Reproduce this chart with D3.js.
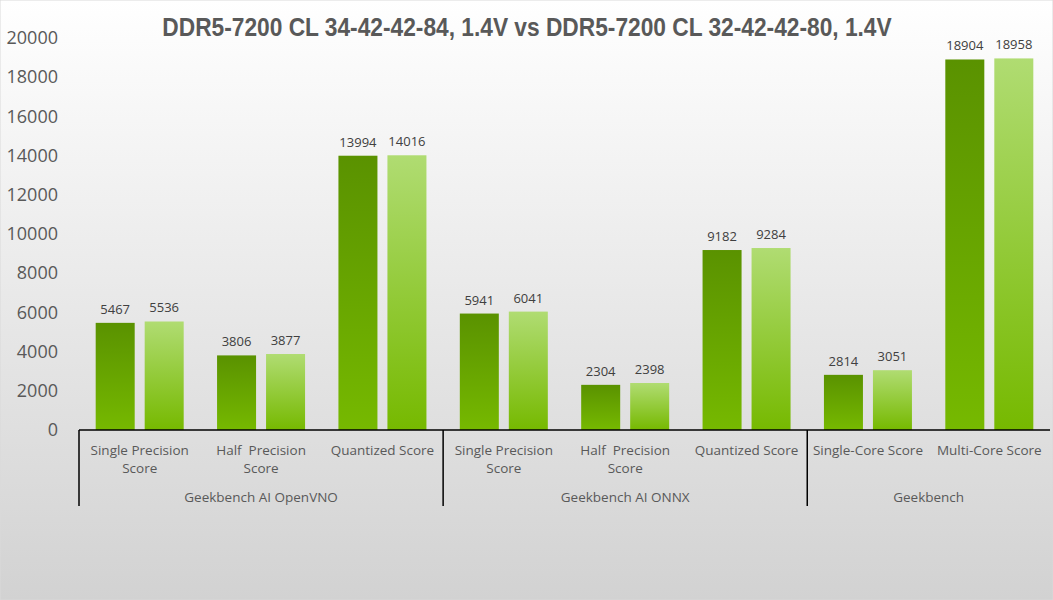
<!DOCTYPE html>
<html>
<head>
<meta charset="utf-8">
<script src="https://cdn.jsdelivr.net/npm/d3@7"></script>
<style>
  body { margin: 0; }
  text { font-family: "Open Sans", "Noto Sans", sans-serif; }
</style>
</head>
<body>
<div id="chart"></div>
<script>
var wi = 1053;
var he = 600;

var titleText = "DDR5-7200 CL 34-42-42-84, 1.4V vs DDR5-7200 CL 32-42-42-80, 1.4V";
var categories = [
  ["Single Precision", "Score"], ["Half  Precision", "Score"], ["Quantized Score"],
  ["Single Precision", "Score"], ["Half  Precision", "Score"], ["Quantized Score"],
  ["Single-Core Score"], ["Multi-Core Score"]
];
var groups = ["Geekbench AI OpenVNO", "Geekbench AI ONNX", "Geekbench"];
var groupSizes = [3, 3, 2];
var cl34 = [5467, 3806, 13994, 5941, 2304, 9182, 2814, 18904];
var cl32 = [5536, 3877, 14016, 6041, 2398, 9284, 3051, 18958];
var yTicks = [0, 2000, 4000, 6000, 8000, 10000, 12000, 14000, 16000, 18000, 20000];

var plotLeft = 79, plotRight = 1050, plotTop = 38, plotBottom = 430;

var svg = d3.select("#chart").append("svg")
    .attr("width", wi)
    .attr("height", he);

var defs = svg.append("defs");
var bg = defs.append("linearGradient").attr("id", "bg")
    .attr("x1", 0).attr("y1", 0).attr("x2", 0).attr("y2", 1);
bg.append("stop").attr("offset", "0%").attr("stop-color", "#ffffff");
bg.append("stop").attr("offset", "100%").attr("stop-color", "#d2d2d2");

var gDark = defs.append("linearGradient").attr("id", "gDark")
    .attr("x1", 0).attr("y1", 0).attr("x2", 0).attr("y2", 1);
gDark.append("stop").attr("offset", "0%").attr("stop-color", "#5a9200");
gDark.append("stop").attr("offset", "100%").attr("stop-color", "#76b900");

var gLight = defs.append("linearGradient").attr("id", "gLight")
    .attr("x1", 0).attr("y1", 0).attr("x2", 0).attr("y2", 1);
gLight.append("stop").attr("offset", "0%").attr("stop-color", "#b0dc72");
gLight.append("stop").attr("offset", "100%").attr("stop-color", "#76b900");

svg.append("rect")
    .attr("width", wi).attr("height", he)
    .attr("fill", "url(#bg)")
    .attr("stroke", "#d9d9d9");

// title, squeezed to the reference width with a scale so its box stays true
var titleG = svg.append("g");
var title = titleG.append("text")
    .attr("x", 0).attr("y", 0)
    .attr("text-anchor", "middle")
    .style("font-family", "'Liberation Sans Narrow', 'Liberation Sans', Arial, sans-serif")
    .style("font-weight", "bold")
    .style("font-size", "26px")
    .attr("fill", "#595959")
    .text(titleText);
var tw = title.node().getComputedTextLength();
var sx = Math.min(1, 730 / tw);
titleG.attr("transform", "translate(527,36) scale(" + sx + ",1)");

var xScale = d3.scaleBand()
    .domain(d3.range(categories.length))
    .range([plotLeft, plotRight]);

var xInner = d3.scaleBand()
    .domain([0, 1])
    .range([-44, 44])
    .paddingInner(0.204);

var yScale = d3.scaleLinear()
    .domain([0, 20000])
    .range([plotBottom, plotTop]);

// y axis labels
var yAxis = d3.axisLeft(yScale)
    .tickValues(yTicks)
    .tickSize(0)
    .tickPadding(0)
    .tickFormat(d3.format("d"));

var yg = svg.append("g")
    .attr("transform", "translate(58,0)")
    .call(yAxis);
yg.select(".domain").remove();
yg.selectAll("text")
    .style("font-size", "18px")
    .style("font-family", "'Open Sans', sans-serif")
    .attr("fill", "#595959");

// bars
var series = [
  { values: cl34, fill: "url(#gDark)" },
  { values: cl32, fill: "url(#gLight)" }
];

series.forEach(function(s, si) {
  var g = svg.append("g");
  g.selectAll("rect")
      .data(s.values)
      .enter()
      .append("rect")
      .attr("x", function(d, i) {
        return xScale(i) + xScale.bandwidth() / 2 + xInner(si);
      })
      .attr("y", function(d) { return yScale(d); })
      .attr("width", xInner.bandwidth())
      .attr("height", function(d) { return plotBottom - yScale(d); })
      .attr("fill", s.fill);

  g.selectAll("text")
      .data(s.values)
      .enter()
      .append("text")
      .attr("x", function(d, i) {
        return xScale(i) + xScale.bandwidth() / 2 + xInner(si) + xInner.bandwidth() / 2;
      })
      .attr("y", function(d) { return yScale(d) - 9; })
      .attr("text-anchor", "middle")
      .style("font-size", "13px")
      .attr("fill", "#404040")
      .text(function(d) { return d; });
});

// x axis line
svg.append("line")
    .attr("x1", plotLeft).attr("x2", plotRight)
    .attr("y1", plotBottom).attr("y2", plotBottom)
    .attr("stroke", "#000").attr("stroke-width", 1.5);

// category labels
var catG = svg.append("g");
categories.forEach(function(c, i) {
  var t = catG.append("text")
      .attr("x", xScale(i) + xScale.bandwidth() / 2)
      .attr("y", 455)
      .attr("text-anchor", "middle")
      .style("font-size", "13.5px")
      .attr("fill", "#595959")
      .style("white-space", "pre");
  c.forEach(function(line, li) {
    t.append("tspan")
        .attr("x", xScale(i) + xScale.bandwidth() / 2)
        .attr("dy", li == 0 ? 0 : 18)
        .text(line);
  });
});

// group labels and separators
var start = 0;
groups.forEach(function(gname, gi) {
  var x0 = xScale(start);
  var x1 = xScale(start + groupSizes[gi] - 1) + xScale.bandwidth();
  svg.append("line")
      .attr("x1", x0).attr("x2", x0)
      .attr("y1", plotBottom).attr("y2", 506)
      .attr("stroke", "#000").attr("stroke-width", 1.5);
  svg.append("text")
      .attr("x", (x0 + x1) / 2)
      .attr("y", 502)
      .attr("text-anchor", "middle")
      .style("font-size", "13.5px")
      .attr("fill", "#595959")
      .text(gname);
  start += groupSizes[gi];
});
</script>
</body>
</html>
